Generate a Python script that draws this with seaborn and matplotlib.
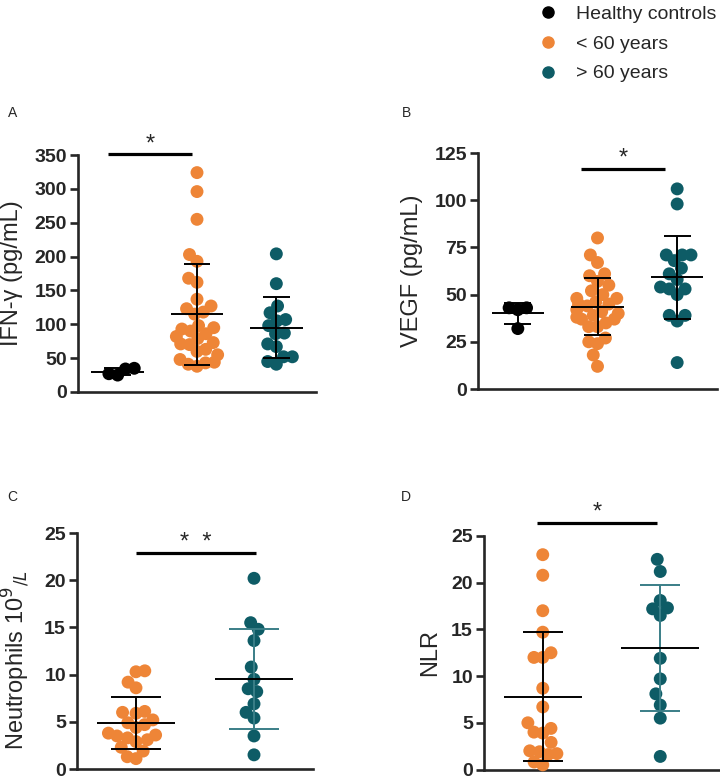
import numpy as np
import pandas as pd
import matplotlib
matplotlib.use("Agg")
import matplotlib.pyplot as plt
import seaborn as sns
from matplotlib.lines import Line2D

# group names and colours
groups = ["Healthy controls", "< 60 years", "> 60 years"]
colors = {"Healthy controls": "#000000", "< 60 years": "#EE8537", "> 60 years": "#0E5C66"}

# A - IFN-gamma (pg/mL)
ifn_healthy = [35, 34, 27, 25]
ifn_young = [324, 296, 255, 203, 193, 168, 162, 137, 127, 123, 118, 115, 98, 95, 93,
             90, 86, 82, 79, 73, 71, 70, 63, 60, 55, 48, 44, 43, 41, 38]
ifn_old = [204, 160, 127, 117, 107, 105, 98, 87, 86, 71, 67, 52, 52, 45, 41]

# B - VEGF (pg/mL)
vegf_healthy = [43, 43, 42, 32]
vegf_young = [80, 71, 67, 61, 60, 57, 55, 52, 50, 48, 48, 46, 45, 45, 44,
              42, 41, 40, 39, 38, 37, 37, 35, 33, 33, 27, 25, 24, 18, 12]
vegf_old = [106, 98, 71, 71, 71, 68, 64, 61, 58, 54, 53, 53, 50, 39, 39, 36, 14]

# C - Neutrophils 10^9/L
neut_young = [10.4, 10.3, 9.2, 8.6, 6.1, 6.0, 5.9, 5.2, 4.9, 4.7, 4.4,
              3.8, 3.6, 3.5, 3.3, 3.1, 2.9, 2.3, 1.9, 1.3, 1.1]
neut_old = [20.2, 15.5, 14.8, 13.6, 10.8, 9.5, 8.5, 8.2, 6.9, 6.0, 5.4, 3.5, 1.5]

# D - NLR
nlr_young = [23.0, 20.8, 17.0, 14.7, 12.5, 12.0, 12.0, 8.7, 6.7, 5.0,
             4.4, 4.0, 3.9, 2.9, 2.0, 1.9, 1.7, 1.6, 0.8, 0.5]
nlr_old = [22.5, 21.2, 18.1, 17.3, 17.2, 16.5, 11.9, 9.7, 8.1, 6.9, 5.5, 1.4]

sns.set_style("ticks")
plt.rcParams["font.family"] = ["Liberation Sans", "DejaVu Sans"]


def dot_panel(ax, data, order, yticks, ylabel, cap=0.17, teal_err=False):
    df = pd.DataFrame([(g, v) for g in order for v in data[g]], columns=["group", "value"])
    sns.swarmplot(data=df, x="group", y="value", hue="group", order=order,
                  hue_order=order, palette=colors, size=9.3, legend=False, ax=ax)
    for c in ax.collections:
        c.set_clip_on(False)

    # mean +/- SD
    for i, g in enumerate(order):
        vals = np.asarray(data[g], dtype=float)
        m, sd = vals.mean(), vals.std(ddof=1)
        ec = "#3A7E87" if (teal_err and g == "> 60 years") else "black"
        ax.vlines(i, m - sd, m + sd, color=ec, lw=1.4, zorder=3)
        ax.hlines([m - sd, m + sd], i - cap, i + cap, color=ec, lw=1.4, zorder=3)
        ax.hlines(m, i - 0.33, i + 0.33, color="black", lw=1.4, zorder=3)

    ax.set_xlim(-0.5, len(order) - 0.5)
    ax.set_ylim(0, yticks[-1])
    ax.set_yticks(yticks)
    ax.set_xlabel("")
    ax.set_ylabel(ylabel, fontsize=17)
    sns.despine(ax=ax)
    for s in ["left", "bottom"]:
        ax.spines[s].set_linewidth(1.9)
    ax.tick_params(axis="x", bottom=False, labelbottom=False)
    ax.tick_params(axis="y", width=1.9, length=6, labelsize=14, pad=2)
    for t in ax.get_yticklabels():
        t.set_fontweight("bold")


def sig_bar(ax, x0, x1, y, label):
    ax.plot([x0, x1], [y, y], color="black", lw=2.3, clip_on=False,
            solid_capstyle="butt")
    ax.annotate(label, xy=((x0 + x1) / 2, y), xytext=(0, 3), textcoords="offset points",
                ha="center", va="baseline", fontsize=17, annotation_clip=False)


fig = plt.figure(figsize=(7.2, 7.79), dpi=100)
W, H = 720, 779


def add_ax(left, top, right, bottom):
    return fig.add_axes([left / W, 1 - bottom / H, (right - left) / W, (bottom - top) / H])


axA = add_ax(78, 155, 316, 392)
axB = add_ax(478, 153, 717, 389)
axC = add_ax(77, 533, 313, 769)
axD = add_ax(484, 536, 719, 769.5)

dot_panel(axA, {"Healthy controls": ifn_healthy, "< 60 years": ifn_young, "> 60 years": ifn_old},
          groups, np.arange(0, 351, 50), "IFN-\u03b3 (pg/mL)")
dot_panel(axB, {"Healthy controls": vegf_healthy, "< 60 years": vegf_young, "> 60 years": vegf_old},
          groups, np.arange(0, 126, 25), "VEGF (pg/mL)")
dot_panel(axC, {"< 60 years": neut_young, "> 60 years": neut_old},
          groups[1:], np.arange(0, 26, 5), r"Neutrophils 10$^{9}$$_{/L}$", cap=0.21, teal_err=True)
dot_panel(axD, {"< 60 years": nlr_young, "> 60 years": nlr_old},
          groups[1:], np.arange(0, 26, 5), "NLR", cap=0.17, teal_err=True)

axA.yaxis.set_label_coords(-55 / 238, 0.5)
axB.yaxis.set_label_coords(-55 / 239, 0.5)
axC.yaxis.set_label_coords(-45 / 236, 0.46)
axD.yaxis.set_label_coords(-43 / 235, 0.5)

sig_bar(axA, -0.12, 0.94, 351, "*")
sig_bar(axB, 0.79, 1.85, 116.5, "*")
sig_bar(axC, 0.0, 1.02, 22.9, "*  *")
sig_bar(axD, -0.05, 0.97, 26.4, "*")

for letter, x, y in [("A", 8, 113), ("B", 402, 113), ("C", 7, 497), ("D", 401, 497)]:
    fig.text(x / W, 1 - y / H, letter, ha="left", va="center", fontsize=10)

handles = [Line2D([0], [0], marker="o", ls="", color=colors[g], markersize=8, label=g)
           for g in groups]
fig.legend(handles=handles, loc="upper left", bbox_to_anchor=(538 / W, 1 - 5.5 / H),
           frameon=False, fontsize=14, handlelength=1, handletextpad=0.94,
           labelspacing=0.62, borderaxespad=0, borderpad=0)

# let seaborn lay out the swarms once, then pull them in a bit so they
# overlap like the original scatter (GraphPad style)
fig.canvas.draw()
for ax in (axA, axB, axC, axD):
    for c in ax.collections:
        if "draw" in c.__dict__:
            del c.draw
            xy = c.get_offsets().copy()
            centre = np.round(xy[:, 0])
            xy[:, 0] = centre + (xy[:, 0] - centre) * 0.65
            c.set_offsets(xy)

fig.savefig("out.png", dpi=100)
